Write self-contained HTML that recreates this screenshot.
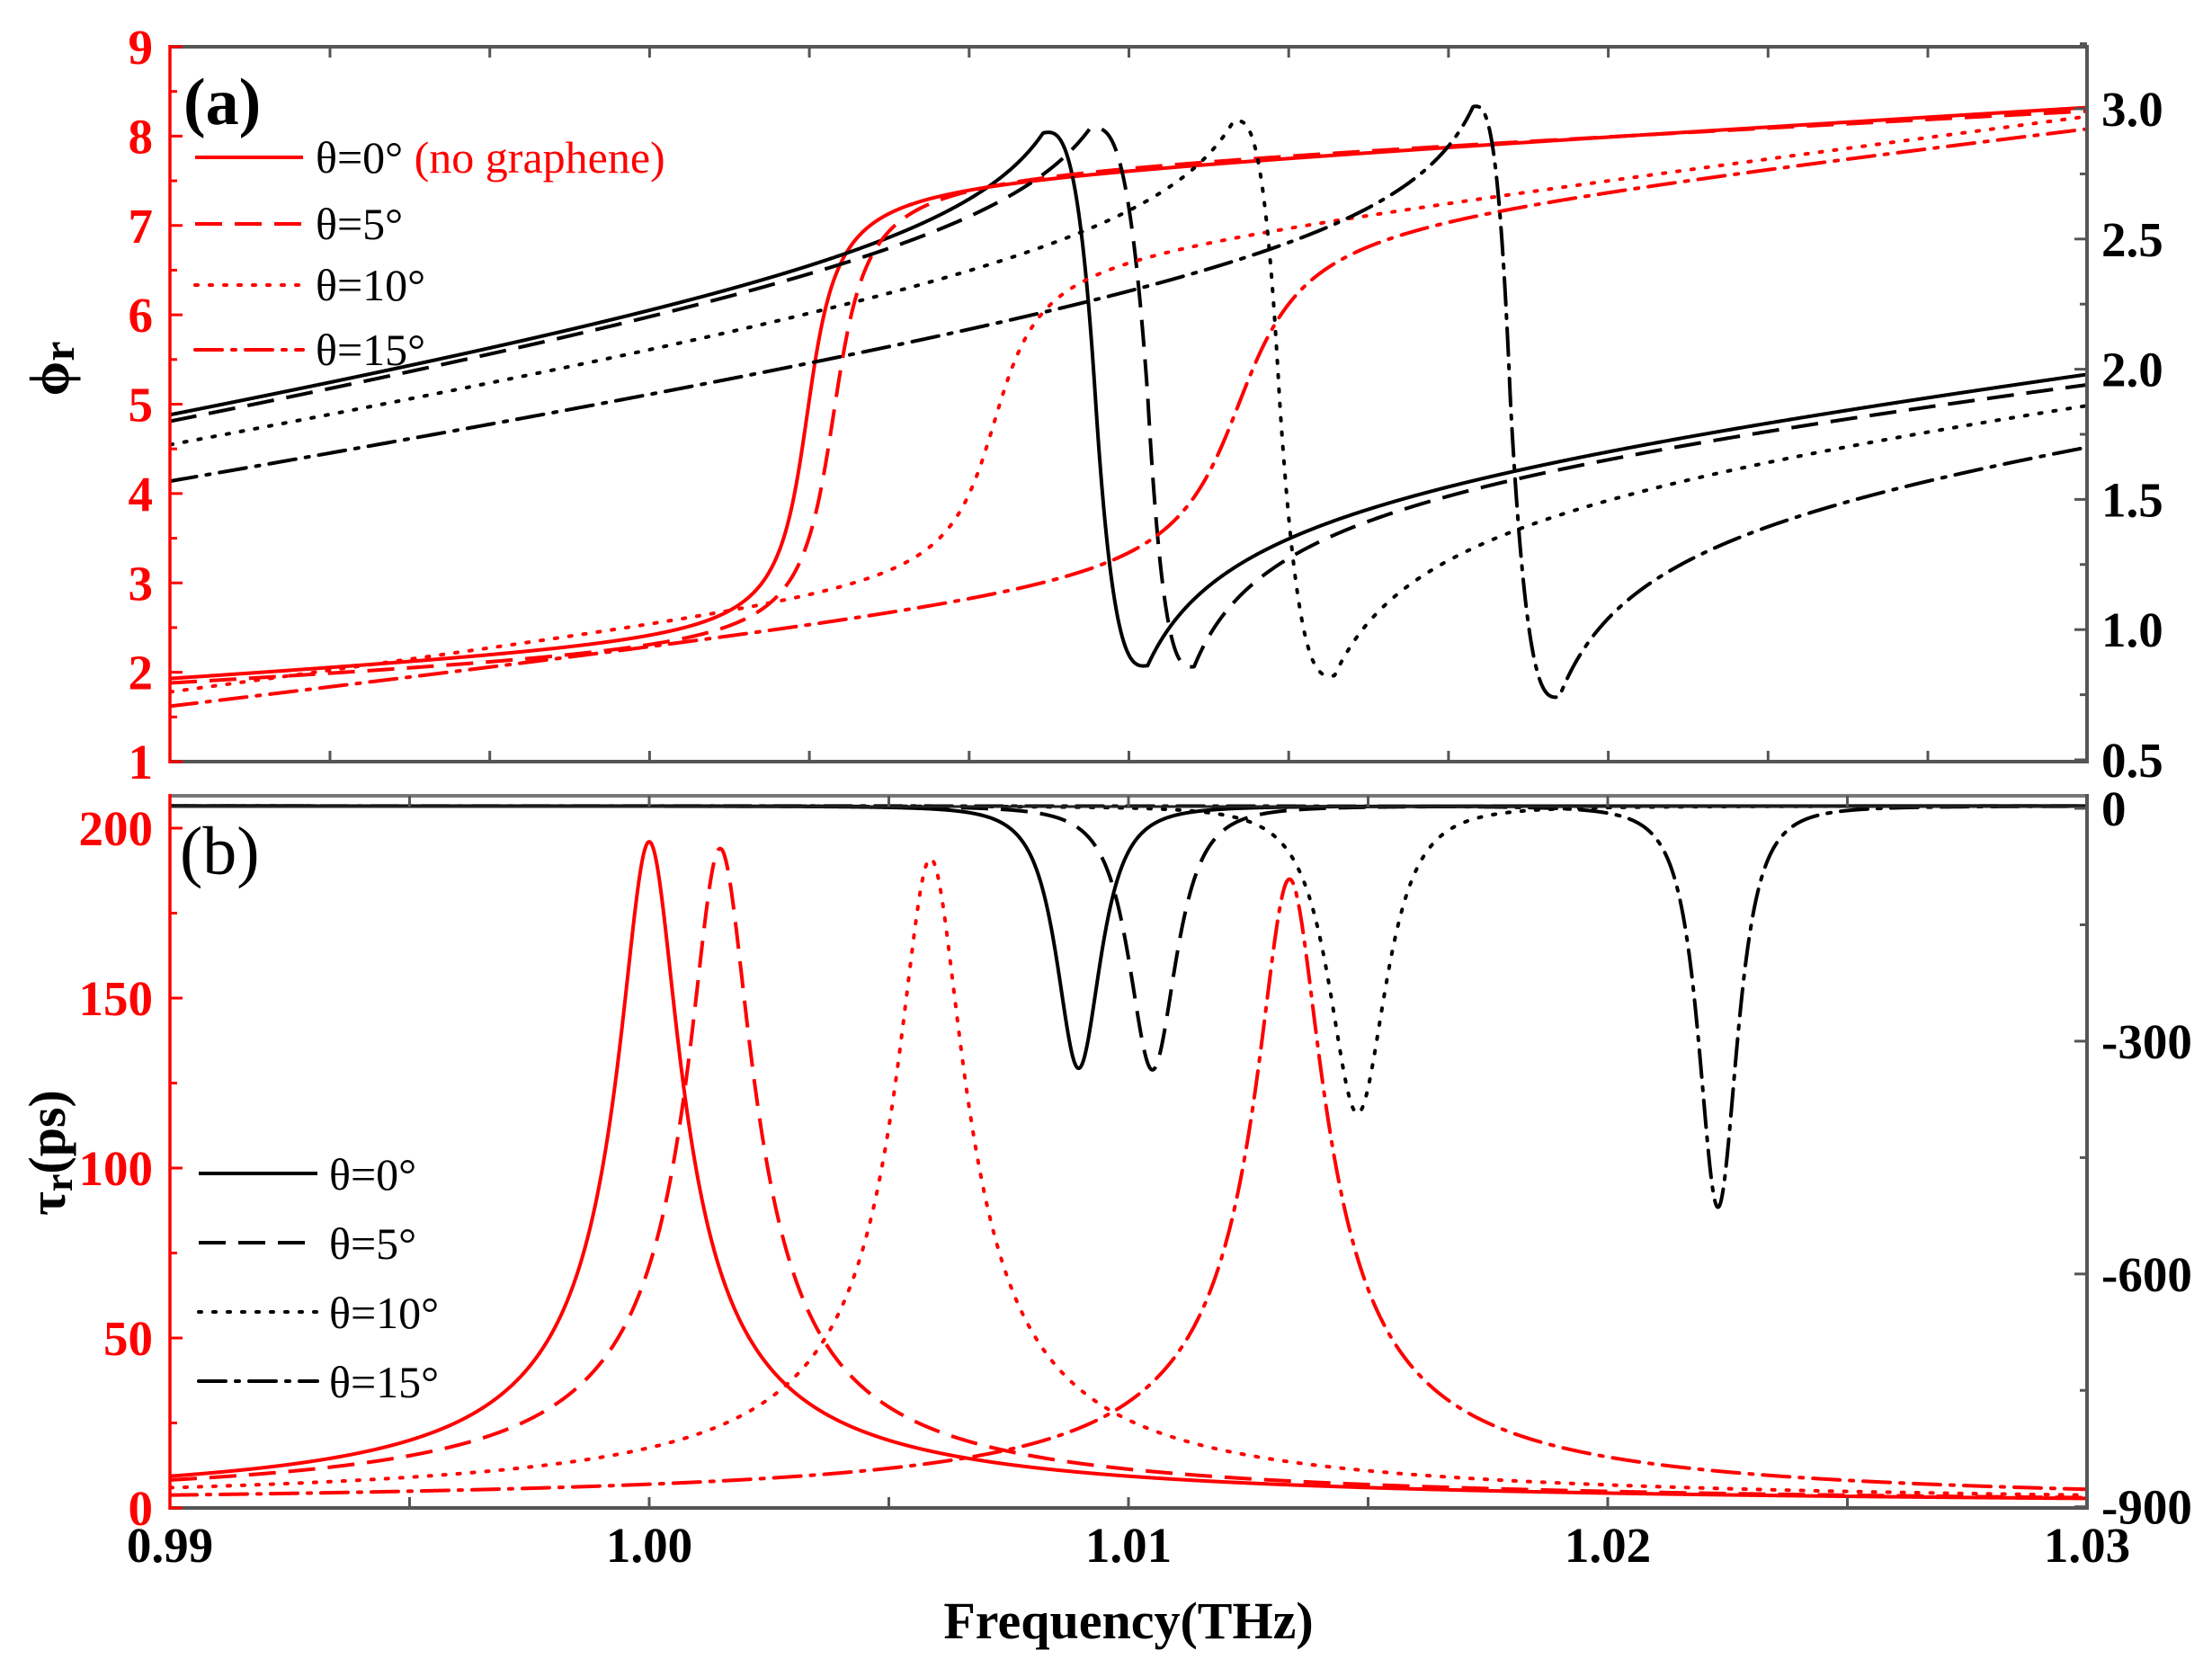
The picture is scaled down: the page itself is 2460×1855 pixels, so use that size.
<!DOCTYPE html>
<html><head><meta charset="utf-8"><style>
html,body{margin:0;padding:0;background:#fff;}
svg{display:block;}
text{font-family:"Liberation Serif",serif;}
</style></head><body>
<svg id="s" width="2460" height="1855" viewBox="0 0 2460 1855" xmlns="http://www.w3.org/2000/svg">
<defs>
<clipPath id="ca"><rect x="189" y="52" width="2132" height="795"/></clipPath>
<clipPath id="cb"><rect x="189" y="883" width="2132" height="794"/></clipPath>
</defs>
<g id="ga" clip-path="url(#ca)"></g>
<g id="gb" clip-path="url(#cb)"></g>
<g id="axes"></g>
<text x="204" y="138" font-size="74" font-weight="bold">(a)</text>
<text x="200" y="972" font-size="76">(b)</text>
<g font-size="50">
<text x="351" y="192">θ=0° <tspan fill="#f00">(no graphene)</tspan></text>
<text x="351" y="266">θ=5°</text>
<text x="351" y="334">θ=10°</text>
<text x="351" y="406">θ=15°</text>
<text x="366" y="1323">θ=0°</text>
<text x="366" y="1400">θ=5°</text>
<text x="366" y="1477">θ=10°</text>
<text x="366" y="1554">θ=15°</text>
</g>
<text transform="translate(76,410) rotate(-90)" text-anchor="middle" font-size="62" font-weight="bold">ϕ<tspan font-size="50" dy="6">r</tspan></text>
<text transform="translate(72,1282) rotate(-90)" text-anchor="middle" font-size="58" font-weight="bold">τ<tspan font-size="44" dy="8">r</tspan><tspan dy="-8">(ps)</tspan></text>
<text x="1255" y="1822" text-anchor="middle" font-size="58" font-weight="bold">Frequency(THz)</text>
</svg>
<script>
var NS="http://www.w3.org/2000/svg";
function X(f){return 189+(f-0.99)/0.04*2132;}
function Ya(v){return 847-(v-1)*99.375;}
function Yar(v){return 845-(v-0.5)*289.6;}
function Yb(v){return 1677-v*3.78;}
function Ybr(v){return 899-v*0.863;}
var dashes={s:"",d:"30,14",o:"3,13",dd:"30,11,4,11"};
function el(t,a,p){var e=document.createElementNS(NS,t);for(var k in a)e.setAttribute(k,a[k]);p.appendChild(e);return e;}
function curve(g,fn,Y,color,st){
 var d="";for(var i=0;i<=3000;i++){var f=0.99+0.04*i/3000;var y=Y(fn(f));y=Math.max(-500,Math.min(2500,y));d+=(i?"L":"M")+X(f).toFixed(2)+","+y.toFixed(2);}
 var a={d:d,fill:"none",stroke:color,"stroke-width":4,"stroke-linejoin":"round"};
 if(dashes[st]){a["stroke-dasharray"]=dashes[st];}
 if(st=="o"||st=="dd")a["stroke-linecap"]="round";
 el("path",a,g);
}
function redPhase(fc,w,C,L,R){
 var d1=0.99-fc,a1=Math.atan(d1/w),d2=1.03-fc,a2=Math.atan(d2/w);
 var r1=L-C,r2=R-C;var det=d1*a2-d2*a1;var s=(r1*a2-r2*a1)/det;var B=(d1*r2-d2*r1)/det;
 return function(f){var x=f-fc;return C+s*x+B*Math.atan(x/w);};
}
function g3(u){return 1-Math.pow(1-u,3);}
function blackPhase(fp,fd,fm,pk,mn,V0,V1){
 var wl=fd-fp,wr=fm-fd,Bc=(pk+mn)/2,Pl=pk-Bc,Pr=Bc-mn,pl=0.25,pr=0.4;
 var Bb0=V0-Pl*Math.pow((fd-0.99)/wl,-pl);var Bb1=V1+Pr*Math.pow((1.03-fd)/wr,-pr);
 return function(f){var x=f-fd,base;
  if(x<0){base=Bb0+(Bc-Bb0)*(f-0.99)/(fd-0.99);var u=-x/wl;return base+Pl*(u<1?g3(u):Math.pow(u,-pl));}
  base=Bc+(Bb1-Bc)*x/(1.03-fd);var u=x/wr;return base-Pr*(u<1?g3(u):Math.pow(u,-pr));};
}
function redTau(f0,P,w,p){return function(f){var u=(f-f0)/w;return P*Math.pow(1+u*u,-p);};}
function blackTau(f0,D,w,p){return function(f){var u=(f-f0)/w;return 3-D*Math.pow(1+u*u,-p);};}
var ga=document.getElementById("ga"),gb=document.getElementById("gb"),ax=document.getElementById("axes");
var R="#f00",K="#000",st=["s","d","o","dd"];
var rp=[[1.0033,0.00045,4.9,1.93,8.32],[1.00385,0.0005,4.9,1.88,8.28],[1.0072,0.0007,4.8,1.78,8.22],[1.0123,0.001,5.0,1.62,8.08]];
var bp=[[1.00822,1.00931,1.0104,2.94,0.84,1.825,1.98],[1.00919,1.0104,1.01137,2.96,0.84,1.80,1.94],[1.01219,1.01315,1.0143,2.98,0.80,1.71,1.86],[1.01719,1.01797,1.01899,3.03,0.72,1.57,1.70]];
for(var i=0;i<4;i++){curve(ga,redPhase.apply(null,rp[i]),Ya,R,st[i]);curve(ga,blackPhase.apply(null,bp[i]),Yar,K,st[i]);}
var rt=[[1.000,196,0.00063],[1.00148,194,0.00065],[1.00587,191,0.00068],[1.01336,185,0.00068]];
var bt=[[1.00896,338,0.0007,1.5],[1.0105,340,0.00075,1.5],[1.01478,396,0.0009,1.5],[1.0223,517,0.00062,1.5]];
for(var i=0;i<4;i++){curve(gb,blackTau.apply(null,bt[i]),Ybr,K,st[i]);}
for(var i=0;i<4;i++){curve(gb,redTau(rt[i][0],rt[i][1],rt[i][2],0.55),Yb,R,st[i]);}
var la=[175,249,317,389],lb=[1305,1382,1459,1536];
for(var i=0;i<4;i++){
 var a={x1:217,x2:337,y1:la[i],y2:la[i],stroke:R,"stroke-width":4};if(dashes[st[i]])a["stroke-dasharray"]=dashes[st[i]];if(i>=2)a["stroke-linecap"]="round";el("line",a,ax);
 var b={x1:221,x2:353,y1:lb[i],y2:lb[i],stroke:K,"stroke-width":4};if(dashes[st[i]])b["stroke-dasharray"]=dashes[st[i]];if(i>=2)b["stroke-linecap"]="round";el("line",b,ax);
}
var G="#555";
function ln(x1,y1,x2,y2,c,w){el("line",{x1:x1,y1:y1,x2:x2,y2:y2,stroke:c,"stroke-width":w||4},ax);}
function txt(x,y,s,anchor,c,size){var t=el("text",{x:x,y:y,"text-anchor":anchor,fill:c,"font-size":size||55,"font-weight":"bold"},ax);t.textContent=s;}
ln(189,52,2321,52,G);ln(189,847,2321,847,G);ln(2321,50,2321,849,G);ln(189,50,189,849,R,3.5);
ln(189,885,2321,885,"#777",4);ln(189,897,2321,897,"#222",3);
ln(189,1677,2323,1677,G);ln(2321,883,2321,1679,G);ln(189,883,189,1679,R,3.5);
for(var x=189+178;x<2321;x+=177.7){ln(x,52,x,64,G,3);ln(x,847,x,835,G,3);}
for(var i=1;i<8;i++){var x=189+266.5*i;ln(x,885,x,897,G,3);ln(x,1677,x,1665,G,3);}
for(var v=1;v<=9;v+=0.5){var y=Ya(v),maj=(v%1==0);ln(189,y,189+(maj?14:8),y,R,3);if(maj)txt(170,y+19,String(v),"end",R);}
for(var v=0.5;v<=3.25;v+=0.25){var y=Yar(v),maj=(Math.abs(v*2-Math.round(v*2))<1e-6);ln(2321,y,2321-(maj?14:8),y,G,3);if(maj)txt(2337,y+19,v.toFixed(1),"start",K);}
for(var v=0;v<=200;v+=25){var y=Yb(v),maj=(v%50==0);ln(189,y,189+(maj?14:8),y,R,3);if(maj)txt(170,y+19,String(v),"end",R);}
for(var v=0;v>=-900;v-=150){var y=Ybr(v),maj=(v%300==0);ln(2321,y,2321-(maj?14:8),y,G,3);if(maj)txt(2337,y+19,v==0?"0":"-"+(-v),"start",K);}
var xl=["0.99","1.00","1.01","1.02","1.03"];
for(var i=0;i<5;i++){txt(189+533*i,1737,xl[i],"middle",K);}
</script>
</body></html>
